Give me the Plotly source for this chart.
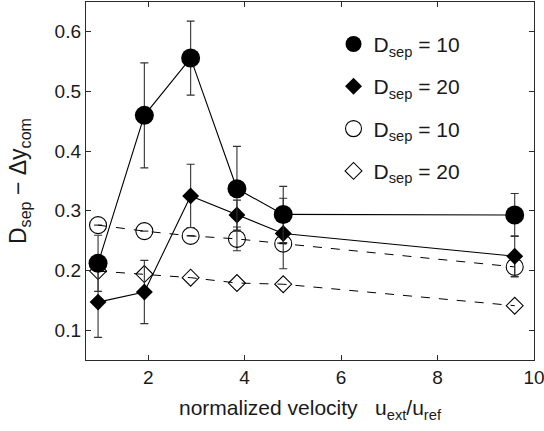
import plotly.graph_objects as go

# ---- data ----
velocity = [0.96, 1.92, 2.88, 3.84, 4.80, 9.60]

sep10_filled = [0.212, 0.460, 0.556, 0.337, 0.294, 0.293]
sep10_filled_err = [0.047, 0.088, 0.062, 0.071, 0.047, 0.036]

sep20_filled = [0.147, 0.164, 0.325, 0.293, 0.262, 0.224]
sep20_filled_err = [0.059, 0.053, 0.053, 0.025, 0.059, 0.034]

sep10_open = [0.276, 0.266, 0.258, 0.253, 0.245, 0.206]
sep10_open_err = [0.0, 0.0, 0.0, 0.020, 0.0, 0.017]

sep20_open = [0.199, 0.194, 0.188, 0.179, 0.177, 0.141]

legend_labels = ["D<sub>sep</sub> = 10", "D<sub>sep</sub> = 20",
                 "D<sub>sep</sub> = 10", "D<sub>sep</sub> = 20"]

x_ticks = [2, 4, 6, 8, 10]
y_ticks = [0.1, 0.2, 0.3, 0.4, 0.5, 0.6]

FONT = "Liberation Sans, Arial, Helvetica, sans-serif"
INK = "#1a1a1a"
ERR = dict(type="data", thickness=1.1, width=4, color="#333333")

fig = go.Figure()

# open (dashed) series first
fig.add_trace(go.Scatter(
    x=velocity, y=sep10_open, mode="lines+markers", showlegend=False,
    line=dict(color="black", width=1, dash="dash"),
    marker=dict(symbol="circle-open", size=17, color="black", line=dict(width=1.1)),
    error_y=dict(array=sep10_open_err, **ERR),
))
fig.add_trace(go.Scatter(
    x=velocity, y=sep20_open, mode="lines+markers", showlegend=False,
    line=dict(color="black", width=1, dash="dash"),
    marker=dict(symbol="diamond-open", size=13, color="black", line=dict(width=1.1)),
))
# filled (solid) series
fig.add_trace(go.Scatter(
    x=velocity, y=sep20_filled, mode="lines+markers", showlegend=False,
    line=dict(color="black", width=1.1),
    marker=dict(symbol="diamond", size=13, color="black"),
    error_y=dict(array=sep20_filled_err, **ERR),
))
fig.add_trace(go.Scatter(
    x=velocity, y=sep10_filled, mode="lines+markers", showlegend=False,
    line=dict(color="black", width=1.1),
    marker=dict(symbol="circle", size=19, color="black"),
    error_y=dict(array=sep10_filled_err, **ERR),
))

# legend entries
legend_markers = [
    dict(symbol="circle", size=19, color="black"),
    dict(symbol="diamond", size=13, color="black"),
    dict(symbol="circle-open", size=17, color="black", line=dict(width=1.1)),
    dict(symbol="diamond-open", size=13, color="black", line=dict(width=1.1)),
]
for i, (lab, mk) in enumerate(zip(legend_labels, legend_markers)):
    fig.add_trace(go.Scatter(
        x=[None], y=[None], mode="markers", name=lab, marker=mk,
        legendgroup=f"g{i}", showlegend=True,
    ))

axis_common = dict(
    showline=True, mirror="ticks", linecolor="#2a2a2a", linewidth=1.4,
    ticks="inside", ticklen=5, tickcolor="#2a2a2a", tickwidth=1,
    showgrid=False, zeroline=False, automargin=False,
    ticklabeloverflow="allow",
    tickfont=dict(family=FONT, size=19, color=INK),
)

fig.update_layout(
    width=544, height=431,
    margin=dict(l=86, r=10, t=2, b=71),
    paper_bgcolor="white", plot_bgcolor="white",
    font=dict(family=FONT, color=INK),
    xaxis=dict(range=[0.71, 10.0001], tickvals=x_ticks, **axis_common,
               title=dict(text="normalized velocity   u<sub>ext</sub>/u<sub>ref</sub>",
                          font=dict(family=FONT, size=21, color=INK), standoff=13)),
    yaxis=dict(range=[0.05, 0.65], tickvals=y_ticks, tickformat=".1f", **axis_common,
               title=dict(text="D<sub>sep</sub> \u2212 \u0394y<sub>com</sub>",
                          font=dict(family=FONT, size=23, color=INK), standoff=21)),
    legend=dict(x=0.5525, y=0.939, xanchor="left", yanchor="top",
                bgcolor="rgba(0,0,0,0)", borderwidth=0,
                font=dict(family=FONT, size=21, color=INK),
                traceorder="grouped", tracegroupgap=12, itemwidth=30),
)

fig.write_html("out.html",
               config={"displayModeBar": False},
               post_script="document.body.style.margin='0';document.body.style.overflow='hidden';")
